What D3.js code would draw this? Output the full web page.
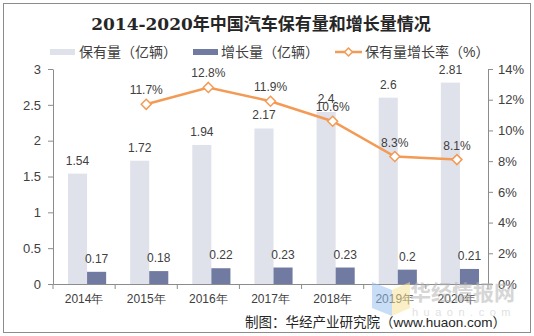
<!DOCTYPE html>
<html>
<head>
<meta charset="utf-8">
<script src="https://cdn.jsdelivr.net/npm/d3@7"></script>
<style>
  body { margin: 0; background: #fff; }
  svg { display: block; font-family: Arial, "Liberation Sans", "Noto Sans CJK SC", sans-serif; }
</style>
</head>
<body>
<div id="chart"></div>
<script>
const years = ["2014年", "2015年", "2016年", "2017年", "2018年", "2019年", "2020年"];
const stock = [1.54, 1.72, 1.94, 2.17, 2.4, 2.6, 2.81];
const increase = [0.17, 0.18, 0.22, 0.23, 0.23, 0.2, 0.21];
const growthYears = ["2015年", "2016年", "2017年", "2018年", "2019年", "2020年"];
const growth = [11.7, 12.8, 11.9, 10.6, 8.3, 8.1];
const leftTicks = [0, 0.5, 1, 1.5, 2, 2.5, 3];
const rightTicks = [0, 2, 4, 6, 8, 10, 12, 14];

const W = 534, H = 336;
const margin = { top: 69, right: 46, bottom: 52, left: 53 };
const width = W - margin.left - margin.right;
const height = H - margin.top - margin.bottom;

const cLight = "#dfe2eb", cDark = "#717ba1", cLine = "#f39a55", cText = "#404040";

const svg = d3.select("#chart").append("svg").attr("width", W).attr("height", H);

svg.append("rect").attr("x", 3.5).attr("y", 3.5).attr("width", W - 7).attr("height", H - 7)
  .attr("fill", "#fff").attr("stroke", "#8c8c8c");

svg.append("text").attr("x", 261).attr("y", 30).attr("text-anchor", "middle")
  .attr("font-family", "'DejaVu Serif', 'Noto Sans CJK SC', serif").attr("font-weight", "bold")
  .attr("font-size", 17).attr("fill", "#262626")
  .text("2014-2020年中国汽车保有量和增长量情况");

// legend
const lg = svg.append("g").attr("font-size", 14).attr("fill", cText);
lg.append("rect").attr("x", 50).attr("y", 49).attr("width", 25).attr("height", 6).attr("fill", cLight);
lg.append("text").attr("x", 79).attr("y", 57).attr("fill", cText).text("保有量（亿辆）");
lg.append("rect").attr("x", 193).attr("y", 49).attr("width", 25).attr("height", 6).attr("fill", cDark);
lg.append("text").attr("x", 221).attr("y", 57).attr("fill", cText).text("增长量（亿辆）");
lg.append("line").attr("x1", 335).attr("x2", 362).attr("y1", 52).attr("y2", 52)
  .attr("stroke", cLine).attr("stroke-width", 2.5);
lg.append("path").attr("transform", "translate(348.5,52)").attr("d", "M0,-4L4,0L0,4L-4,0Z")
  .attr("fill", "#fff").attr("stroke", cLine).attr("stroke-width", 1.5);
lg.append("text").attr("x", 365).attr("y", 57).attr("fill", cText).text("保有量增长率（%）");

const g = svg.append("g").attr("transform", `translate(${margin.left},${margin.top})`);

const x = d3.scaleBand().domain(years).range([0, width]);
const sub = d3.scaleBand().domain(["stock", "increase"]).range([15, x.bandwidth() - 9]).padding(0);
const y = d3.scaleLinear().domain([0, 3]).range([height, 0]);
const y2 = d3.scaleLinear().domain([0, 14]).range([height, 0]);

// watermark behind marks
const wm = svg.append("g").attr("opacity", 0.55);
wm.append("path").attr("d", "M372,282 L392,290 L392,316 L372,308 Z").attr("fill", "#9cc3f0");
wm.append("path").attr("d", "M392,290 L410,282 L410,308 L392,316 Z").attr("fill", "#f7e39a");
wm.append("text").attr("x", 410).attr("y", 300).attr("font-size", 21).attr("font-weight", "bold")
  .attr("font-family", "'Noto Sans CJK SC', sans-serif").attr("fill", "#b5b5b5").text("华经情报网");
wm.append("text").attr("x", 412).attr("y", 316).attr("font-size", 11).attr("letter-spacing", 5.5)
  .attr("fill", "#c8c8c8").text("huaon.com");

g.selectAll(".stock").data(stock).join("rect").attr("class", "stock")
  .attr("x", (d, i) => x(years[i]) + sub("stock")).attr("width", sub.bandwidth())
  .attr("y", d => y(d)).attr("height", d => height - y(d)).attr("fill", cLight);

g.selectAll(".inc").data(increase).join("rect").attr("class", "inc")
  .attr("x", (d, i) => x(years[i]) + sub("increase")).attr("width", sub.bandwidth())
  .attr("y", d => y(d)).attr("height", d => height - y(d)).attr("fill", cDark);

// axes
const styleAxis = sel => {
  sel.selectAll("path, line").attr("stroke", "#8c8c8c");
  sel.selectAll("text").attr("fill", cText).attr("font-size", 12);
};
g.append("g").call(d3.axisLeft(y).tickValues(leftTicks).tickFormat(d3.format("")).tickSize(5).tickSizeOuter(0))
  .call(styleAxis).call(a => a.selectAll("text").attr("x", -12).attr("font-size", 13));
g.append("g").attr("transform", `translate(${width},0)`)
  .call(d3.axisRight(y2).tickValues(rightTicks).tickFormat(d => d + "%").tickSize(5).tickSizeOuter(0))
  .call(styleAxis).call(a => a.selectAll("text").attr("x", 10).attr("font-size", 13));
const xAxis = g.append("g").attr("transform", `translate(0,${height})`)
  .call(d3.axisBottom(x).tickSize(0).tickPadding(10)).call(styleAxis);
xAxis.selectAll("text").attr("font-size", 12);
xAxis.selectAll(".sep").data(d3.range(years.length + 1)).join("line").attr("class", "sep")
  .attr("x1", i => i * x.step()).attr("x2", i => i * x.step()).attr("y1", 0).attr("y2", 5)
  .attr("stroke", "#8c8c8c");

// value labels
g.selectAll(".lstock").data(stock).join("text")
  .attr("x", (d, i) => x(years[i]) + sub("stock") + sub.bandwidth() / 2).attr("y", d => y(d) - 9)
  .attr("text-anchor", "middle").attr("font-size", 12).attr("fill", cText).text(d => d);
g.selectAll(".linc").data(increase).join("text")
  .attr("x", (d, i) => x(years[i]) + sub("increase") + sub.bandwidth() / 2).attr("y", d => y(d) - 9)
  .attr("text-anchor", "middle").attr("font-size", 12).attr("fill", cText).text(d => d);

// growth rate line
const cx = (d, i) => x(growthYears[i]) + x.bandwidth() / 2;
g.append("path").datum(growth)
  .attr("d", d3.line().x(cx).y(d => y2(d)))
  .attr("fill", "none").attr("stroke", cLine).attr("stroke-width", 2.5);
g.selectAll(".mk").data(growth).join("path")
  .attr("transform", (d, i) => `translate(${cx(d, i)},${y2(d)})`)
  .attr("d", "M0,-5L5,0L0,5L-5,0Z").attr("fill", "#fff").attr("stroke", cLine).attr("stroke-width", 1.5);
g.selectAll(".lg").data(growth).join("text")
  .attr("x", cx).attr("y", d => y2(d) - 10)
  .attr("text-anchor", "middle").attr("font-size", 12).attr("fill", cText).text(d => d + "%");

svg.append("text").attr("x", 506).attr("y", 327).attr("text-anchor", "end")
  .attr("font-size", 13.5).attr("fill", "#262626").text("制图：华经产业研究院（www.huaon.com）");
</script>
</body>
</html>
